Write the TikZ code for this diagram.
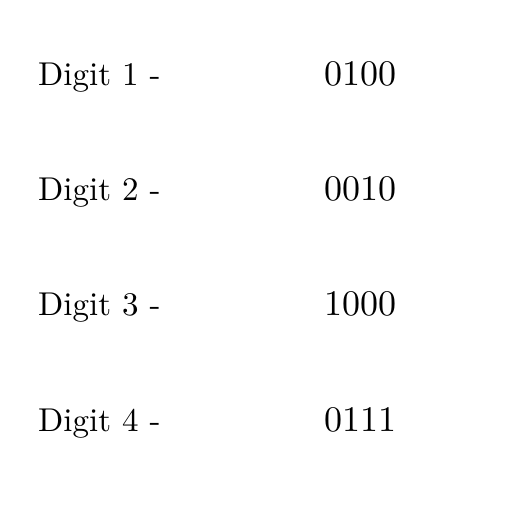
\documentclass[tikz,border=0pt]{standalone}
\begin{document}
\begin{tikzpicture}[x=1pt,y=1pt]
\tikzset{
  lbl/.style={anchor=base west,inner sep=0pt},
}
\newcommand{\leftlbl}[1]{\scalebox{3.3}{\fontsize{10}{12}\selectfont #1}}
\newcommand{\rightlbl}[1]{\scalebox{3.6}{\fontsize{10}{12}\selectfont #1}}
\useasboundingbox (0,0) rectangle (512,512);
\node[lbl] (d1) at (38,426.5) {\leftlbl{Digit 1 -}};
\node[lbl] (v1) at (324,426.5) {\rightlbl{0100}};
\node[lbl] (d2) at (38,311.3) {\leftlbl{Digit 2 -}};
\node[lbl] (v2) at (324,311.3) {\rightlbl{0010}};
\node[lbl] (d3) at (38,196.1) {\leftlbl{Digit 3 -}};
\node[lbl] (v3) at (324,196.1) {\rightlbl{1000}};
\node[lbl] (d4) at (38,80.9) {\leftlbl{Digit 4 -}};
\node[lbl] (v4) at (324,80.9) {\rightlbl{0111}};
\end{tikzpicture}
\end{document}
